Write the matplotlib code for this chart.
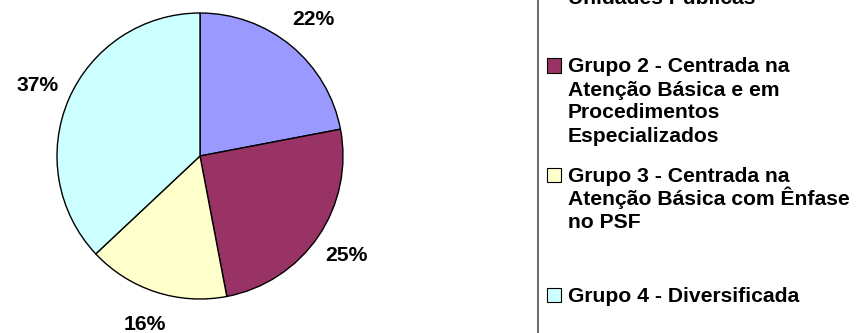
import matplotlib
matplotlib.use("Agg")
import matplotlib.pyplot as plt
from matplotlib.patches import Rectangle
from matplotlib.lines import Line2D

# Distribution of municipalities by spending-pattern group (%)
groups = [
    "Grupo 1 - Centrada na\nAtenção Básica em\nUnidades Públicas",
    "Grupo 2 - Centrada na\nAtenção Básica e em\nProcedimentos\nEspecializados",
    "Grupo 3 - Centrada na\nAtenção Básica com Ênfase\nno PSF",
    "Grupo 4 - Diversificada",
]
shares = [22, 25, 16, 37]
colors = ["#9999FF", "#993366", "#FFFFCC", "#CCFFFF"]

W, H, DPI = 863, 333, 100
FS = 15.2
plt.rcParams["font.family"] = ["Liberation Sans", "DejaVu Sans"]
fig = plt.figure(figsize=(W / DPI, H / DPI), dpi=DPI)
fig.patch.set_facecolor("white")

# pie geometry in pixels (origin top-left)
cx, cy, r = 200, 156, 143
ax = fig.add_axes([0, 0, 1, 1])
wedges, _, pct = ax.pie(
    shares, colors=colors, startangle=90, counterclock=False,
    autopct=lambda p: f"{p:.0f}%", pctdistance=1.24,
    wedgeprops=dict(edgecolor="black", linewidth=1.0),
    textprops=dict(fontsize=FS, fontweight="bold", color="black"),
)
ax.set_xlim(-cx / r, (W - cx) / r)
ax.set_ylim(-(H - cy) / r, cy / r)
ax.set_aspect("equal")
ax.axis("off")

def fx(px):
    return px / W

def fy(py):
    return 1 - py / H

# legend frame (only its left edge falls inside the canvas)
fig.add_artist(Line2D([fx(537.5), fx(537.5)], [0, 1], transform=fig.transFigure,
                      color="#505050", linewidth=1.2))

# legend entries: baseline of the first line of each entry
first_baselines = [-41.5, 72.5, 182, 301.5]
line_step = 23
text_x = 568
box_x, box_size = 547, 14
for label, col, base in zip(groups, colors, first_baselines):
    for i, line in enumerate(label.split("\n")):
        fig.text(fx(text_x), fy(base + i * line_step), line, fontsize=FS,
                 fontweight="bold", ha="left", va="baseline", color="black")
    fig.add_artist(Rectangle((fx(box_x), fy(base)), box_size / W, box_size / H,
                             transform=fig.transFigure, facecolor=col,
                             edgecolor="black", linewidth=0.8))

fig.savefig("out.png", dpi=DPI)
